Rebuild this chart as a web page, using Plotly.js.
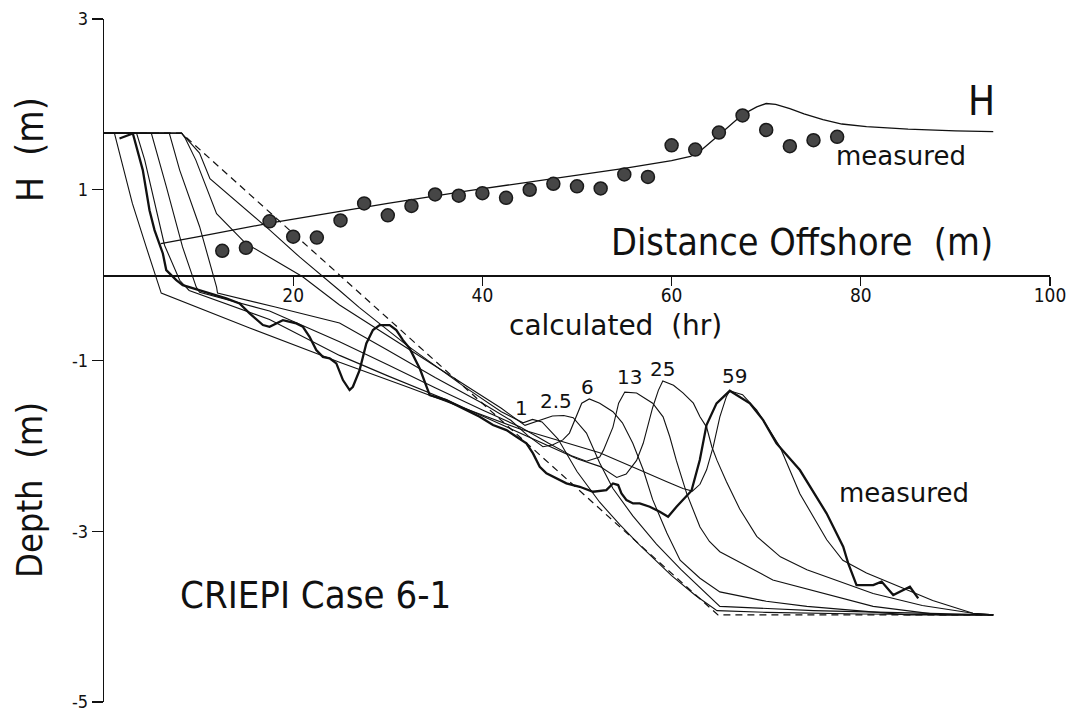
<!DOCTYPE html>
<html>
<head>
<meta charset="utf-8">
<script src="https://cdn.plot.ly/plotly-3.0.1.min.js"></script>
<style>
  html, body { margin: 0; padding: 0; background: #fff; }
  #chart { width: 1073px; height: 713px; }
</style>
</head>
<body>
<div id="chart"></div>
<script>
// Wave height along the flume: calculated curve and measured points
const hCalcX = [6.0, 10, 17.5, 25, 30, 38.6, 45, 50, 55, 60, 62, 63, 64, 65.1, 67.5, 69, 70, 71, 72.5, 74, 76, 78, 80.6, 85, 90, 94];
const hCalcY = [0.37, 0.45, 0.61, 0.75, 0.84, 0.99, 1.09, 1.17, 1.25, 1.34, 1.39, 1.45, 1.54, 1.65, 1.88, 1.97, 2.01, 2.0, 1.95, 1.89, 1.82, 1.77, 1.74, 1.71, 1.69, 1.68];

const hMeasX = [12.5, 15, 17.5, 20, 22.5, 25, 27.5, 30, 32.5, 35, 37.5, 40, 42.5, 45, 47.5, 50, 52.5, 55, 57.5, 60, 62.5, 65, 67.5, 70, 72.5, 75, 77.5];
const hMeasY = [0.285, 0.32, 0.63, 0.45, 0.44, 0.64, 0.84, 0.70, 0.81, 0.945, 0.93, 0.96, 0.905, 1.00, 1.07, 1.04, 1.015, 1.18, 1.15, 1.52, 1.47, 1.67, 1.87, 1.70, 1.51, 1.58, 1.62];

// Initial beach profile (dashed)
const initX = [0, 8.2, 64.9, 94];
const initY = [1.663, 1.663, -3.98, -3.98];

// Calculated profiles after 1, 2.5, 6, 13, 25 and 59 hours
const p1X = [0, 8.2, 10.1, 11.2, 17.5, 20.7, 24.9, 27.0, 32, 38, 42, 44.3, 45.3, 46.3, 48, 50, 52.4, 54.5, 56.6, 58.4, 60, 62.5, 64.8, 70, 80, 94];
const p1Y = [1.663, 1.663, 1.43, 1.13, 0.53, 0.21, -0.18, -0.38, -0.82, -1.3, -1.6, -1.73, -1.69, -1.72, -1.92, -2.3, -2.66, -2.92, -3.16, -3.35, -3.52, -3.75, -3.93, -3.95, -3.97, -3.98];

const p25X = [0, 8.2, 8.6, 9.7, 11.9, 15.0, 17.5, 21, 24.9, 32, 38, 42, 44.5, 46, 47.4, 48.6, 49.6, 51.0, 52.4, 53.8, 55.9, 58.4, 61, 65.1, 75, 94];
const p25Y = [1.663, 1.663, 1.6, 1.35, 0.72, 0.37, 0.21, -0.02, -0.35, -0.85, -1.28, -1.56, -1.76, -1.70, -1.65, -1.645, -1.67, -1.85, -2.2, -2.5, -2.82, -3.15, -3.45, -3.88, -3.93, -3.98];

const p6X = [0, 6.9, 8.0, 10.1, 11.9, 12.0, 18, 24.9, 30, 35, 40, 43, 44.8, 46.4, 47.4, 48.5, 49.2, 49.9, 50.5, 51.3, 52.4, 53.8, 54.8, 55.9, 57.0, 58.0, 59.5, 60.9, 63, 65.1, 70, 74.3, 84.9, 94];
const p6Y = [1.663, 1.663, 1.23, 0.57, -0.14, -0.21, -0.37, -0.56, -0.88, -1.2, -1.5, -1.7, -1.88, -2.01, -1.99, -1.93, -1.85, -1.66, -1.5, -1.45, -1.50, -1.60, -1.73, -1.97, -2.28, -2.63, -3.02, -3.34, -3.55, -3.71, -3.82, -3.88, -3.98, -3.98];

const p13X = [0, 5.0, 6.6, 8.3, 9.75, 10.1, 17.5, 24.9, 30, 35, 40, 44, 47, 49.5, 51.0, 52.4, 52.8, 53.8, 54.4, 55.05, 56.3, 58.0, 59.1, 59.8, 60.5, 61.6, 63.0, 64.0, 65.1, 70.7, 81.3, 88.4, 94];
const p13Y = [1.663, 1.663, 1.03, 0.33, -0.14, -0.2, -0.42, -0.78, -1.05, -1.32, -1.58, -1.78, -1.97, -2.12, -2.18, -2.13, -2.05, -1.78, -1.5, -1.37, -1.38, -1.50, -1.66, -1.89, -2.17, -2.56, -2.95, -3.12, -3.24, -3.57, -3.88, -3.98, -3.98];

const p25hX = [0, 3.44, 4.3, 5.3, 6.4, 8.0, 9.0, 17.5, 24.9, 30, 36, 42, 47, 50, 52.4, 54.2, 55.2, 56.3, 57.0, 58.0, 58.6, 59.07, 60.2, 61.2, 62.3, 63.0, 63.7, 64.25, 64.8, 65.8, 67.2, 69.0, 71.5, 74.3, 81.3, 86.5, 91.85, 94];
const p25hY = [1.663, 1.663, 1.35, 0.88, 0.35, -0.06, -0.18, -0.52, -0.94, -1.18, -1.45, -1.75, -2.0, -2.15, -2.24, -2.37, -2.33, -2.17, -1.97, -1.55, -1.35, -1.24, -1.29, -1.38, -1.50, -1.66, -1.78, -2.01, -2.17, -2.42, -2.74, -3.06, -3.3, -3.45, -3.73, -3.87, -3.96, -3.98];

const p59X = [0, 1.1, 1.64, 3.0, 4.46, 6.05, 15.4, 24.9, 32.3, 43.9, 52.4, 55, 57, 59.5, 61.2, 62.2, 63.0, 63.7, 64.4, 65.1, 65.8, 66.15, 67.5, 69.0, 71.45, 73.56, 76.4, 78.1, 80.6, 84.1, 87.6, 91.85, 94];
const p59Y = [1.663, 1.663, 1.43, 0.84, 0.33, -0.21, -0.62, -1.02, -1.32, -1.80, -2.08, -2.2, -2.30, -2.42, -2.50, -2.53, -2.45, -2.28, -2.01, -1.66, -1.42, -1.355, -1.40, -1.58, -2.01, -2.56, -3.10, -3.34, -3.49, -3.65, -3.81, -3.96, -3.98];

// Measured profile at the end of the run (heavy line)
const measX = [1.64, 3.05, 4.10, 4.81, 5.34, 6.22, 6.58, 7.64, 8.33, 10.10, 12.92, 14.33, 15.39, 16.80, 17.50, 18.21, 18.91, 20.33, 21.03, 21.73, 22.44, 23.14, 23.85, 24.56, 25.26, 25.96, 26.31, 27.02, 27.73, 28.43, 29.14, 30.20, 30.90, 31.60, 32.31, 33.4, 34.43, 36.19, 38.31, 39.71, 41.12, 42.54, 43.6, 44.65, 45.35, 46.06, 46.77, 47.47, 48.88, 50.29, 51.7, 53.1, 53.8, 54.35, 54.7, 55.23, 55.93, 56.63, 57.69, 58.75, 59.63, 60.52, 62.1, 62.98, 63.69, 64.75, 66.15, 68.27, 69.68, 71.09, 73.56, 76.38, 78.14, 78.67, 79.55, 81.31, 82.2, 83.43, 85.19, 86.07];
const measY = [1.60, 1.659, 1.23, 0.76, 0.527, 0.254, 0.059, -0.059, -0.117, -0.176, -0.273, -0.331, -0.448, -0.585, -0.605, -0.566, -0.527, -0.566, -0.605, -0.722, -0.878, -0.957, -0.975, -1.034, -1.229, -1.346, -1.308, -1.112, -0.80, -0.644, -0.585, -0.585, -0.644, -0.761, -0.858, -1.1, -1.405, -1.464, -1.581, -1.659, -1.756, -1.815, -1.893, -1.971, -2.088, -2.245, -2.322, -2.362, -2.439, -2.479, -2.537, -2.518, -2.44, -2.459, -2.556, -2.635, -2.674, -2.674, -2.713, -2.771, -2.83, -2.713, -2.526, -2.166, -1.756, -1.502, -1.355, -1.502, -1.698, -1.971, -2.283, -2.79, -3.18, -3.376, -3.63, -3.63, -3.59, -3.747, -3.65, -3.786];

// Hour labels above each bar crest
const hourLabels = ['1', '2.5', '6', '13', '25', '59'];
const hourLabelX = [44.15, 47.75, 51.1, 55.6, 59.07, 66.7];
const hourLabelY = [-1.56, -1.475, -1.31, -1.19, -1.10, -1.18];

const yTickVals = [3, 1, -1, -3, -5];
const yTickText = ['3', '1', '-1', '-3', '-5'];
const xTickVals = [20, 40, 60, 80, 100];

const NARROW = 'DejaVu Sans Condensed, DejaVu Sans, sans-serif';
const PLAIN = 'DejaVu Sans, Verdana, sans-serif';
const INK = '#111';

function thin(x, y, name) {
  return { x: x, y: y, name: name, type: 'scatter', mode: 'lines',
           line: { color: INK, width: 1.1 }, hoverinfo: 'skip' };
}

const traces = [
  { x: initX, y: initY, name: 'initial', type: 'scatter', mode: 'lines',
    line: { color: INK, width: 1.2, dash: '7px,5px' } },
  thin(p1X, p1Y, '1 hr'),
  thin(p25X, p25Y, '2.5 hr'),
  thin(p6X, p6Y, '6 hr'),
  thin(p13X, p13Y, '13 hr'),
  thin(p25hX, p25hY, '25 hr'),
  thin(p59X, p59Y, '59 hr'),
  { x: measX, y: measY, name: 'measured profile', type: 'scatter', mode: 'lines',
    line: { color: INK, width: 2.3 } },
  { x: hCalcX, y: hCalcY, name: 'H calculated', type: 'scatter', mode: 'lines',
    line: { color: INK, width: 1.3 } },
  { x: hMeasX, y: hMeasY, name: 'H measured', type: 'scatter', mode: 'markers',
    marker: { size: 13, color: '#464646', line: { color: '#1a1a1a', width: 1.5 } } }
];

const annotations = [
  { text: 'H  (m)', xref: 'paper', yref: 'paper', x: -0.0772, y: 0.8097, textangle: -90,
    xanchor: 'center', yanchor: 'middle',
    showarrow: false, font: { family: NARROW, size: 37, color: INK } },
  { text: 'Depth  (m)', xref: 'paper', yref: 'paper', x: -0.0782, y: 0.3104, textangle: -90,
    xanchor: 'center', yanchor: 'middle',
    showarrow: false, font: { family: NARROW, size: 36, color: INK } },
  { text: 'H', x: 92.8, y: 2.04, showarrow: false, font: { family: NARROW, size: 40, color: INK } },
  { text: 'measured', x: 84.2, y: 1.39, showarrow: false, font: { family: PLAIN, size: 26, color: INK } },
  { text: 'Distance Offshore  (m)', x: 73.8, y: 0.39, showarrow: false,
    font: { family: NARROW, size: 37.5, color: INK } },
  { text: 'calculated  (hr)', x: 54.1, y: -0.585, showarrow: false,
    font: { family: PLAIN, size: 28, color: INK } },
  { text: 'measured', x: 84.6, y: -2.55, showarrow: false, font: { family: PLAIN, size: 26, color: INK } },
  { text: 'CRIEPI Case 6-1', x: 7.8, y: -3.75, xanchor: 'left', showarrow: false,
    font: { family: NARROW, size: 38, color: INK } }
];
hourLabels.forEach(function (t, i) {
  annotations.push({ text: t, x: hourLabelX[i], y: hourLabelY[i], showarrow: false,
    font: { family: PLAIN, size: 20, color: INK } });
});

const layout = {
  width: 1073, height: 713,
  margin: { l: 104, r: 23, t: 19, b: 11, pad: 0 },
  paper_bgcolor: '#fff', plot_bgcolor: '#fff',
  showlegend: false,
  xaxis: {
    range: [0, 100], anchor: 'free', position: 0.625,
    showline: true, linecolor: INK, linewidth: 1.6,
    ticks: 'outside', ticklen: 9, tickwidth: 1.2, tickcolor: INK,
    tickvals: xTickVals, ticklabelstandoff: -7,
    tickfont: { family: NARROW, size: 19, color: INK },
    showgrid: false, zeroline: false
  },
  yaxis: {
    range: [-5, 3],
    showline: true, linecolor: INK, linewidth: 1.3,
    ticks: 'outside', ticklen: 11, tickwidth: 1.2, tickcolor: INK,
    tickvals: yTickVals, ticktext: yTickText, ticklabelstandoff: 0,
    tickfont: { family: NARROW, size: 18, color: INK },
    showgrid: false, zeroline: false
  },
  annotations: annotations
};

Plotly.newPlot('chart', traces, layout, { displayModeBar: false, staticPlot: true });
</script>
</body>
</html>
